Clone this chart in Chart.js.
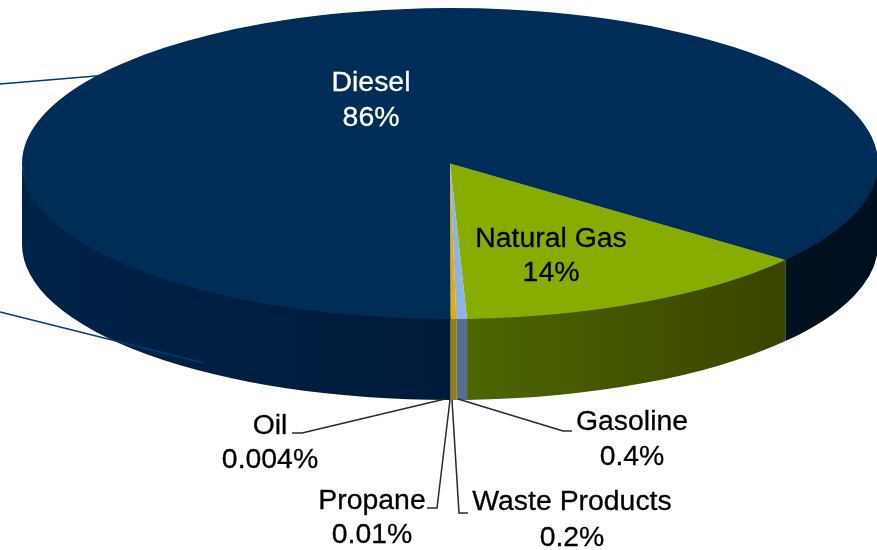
<!DOCTYPE html>
<html>
<head>
<meta charset="utf-8">
<title>Fuel share</title>
<script src="https://cdn.jsdelivr.net/npm/chart.js@4"></script>
<style>
    html, body { margin: 0; padding: 0; background: #fff; overflow: hidden; }
    #chart { display: block; }
</style>
</head>
<body>
<canvas id="chart" width="877" height="550"></canvas>
<script>
var categories = ['Natural Gas', 'Gasoline', 'Waste Products', 'Propane', 'Oil', 'Diesel'];
// slice sizes, the labels round them
var shares = [13.7, 0.4, 0.2, 0.01, 0.004, 85.7];
var shareLabels = ['14%', '0.4%', '0.2%', '0.01%', '0.004%', '86%'];

var topColors = ['#86ad00', '#8db4e2', '#e6ac00', '#e6ac00', '#e6ac00', '#002c58'];
// wall shading, left to right
var wallColors = [
    ['#4d6600', '#394400'],
    ['#54708f', '#54708f'],
    ['#9c7a0a', '#9c7a0a'],
    ['#9c7a0a', '#9c7a0a'],
    ['#9c7a0a', '#9c7a0a'],
    ['#002348', '#001a3a']
];
var dieselRightWall = ['#00111f', '#000f20'];

// pie on screen
var pie = { x: 450, y: 163.5, rx: 428, ry: 155.5, depth: 81 };
var startDegrees = 128.4;

var fontSpec = '28.4px "Liberation Sans", Arial, sans-serif';

// label centres, same order as categories
var labelSpots = [
    { x: 551, y1: 239, y2: 273, color: '#000' },
    { x: 632, y1: 422, y2: 457, color: '#000' },
    { x: 572, y1: 502, y2: 538, color: '#000' },
    { x: 372, y1: 501, y2: 535, color: '#000' },
    { x: 270, y1: 426, y2: 460, color: '#000' },
    { x: 371, y1: 83, y2: 118, color: '#fff' }
];

var leaderLines = [
    [[292, 433], [302, 433], [445, 399]],
    [[427, 508], [437, 508], [450, 400]],
    [[468, 513], [459, 513], [452, 400]],
    [[572, 431], [563, 431], [458, 399]]
];
var blueLines = [
    [[0, 84], [108, 75]],
    [[0, 312], [204, 363]]
];

function drawWallPiece(ctx, a0, a1, colors) {
    var x0 = pie.x + pie.rx * Math.cos(a1);
    var x1 = pie.x + pie.rx * Math.cos(a0);
    var grad = ctx.createLinearGradient(x0, 0, Math.max(x1, x0 + 1), 0);
    grad.addColorStop(0, colors[0]);
    grad.addColorStop(1, colors[1]);
    ctx.fillStyle = grad;
    ctx.beginPath();
    // start a little above the rim so no light seam shows under the top
    ctx.ellipse(pie.x, pie.y - 1.5, pie.rx, pie.ry, 0, a0, a1);
    ctx.ellipse(pie.x, pie.y + pie.depth, pie.rx, pie.ry, 0, a1, a0, true);
    ctx.closePath();
    ctx.fill();
}

function drawWalls(chart) {
    var ctx = chart.ctx;
    var arcs = chart.getDatasetMeta(0).data;
    arcs.forEach(function(arc, i) {
        // only the front half of the disc shows its wall
        for (var k = -1; k <= 2; k++) {
            var lo = k * 2 * Math.PI;
            var a0 = Math.max(arc.startAngle, lo);
            var a1 = Math.min(arc.endAngle, lo + Math.PI);
            if (a1 <= a0) continue;
            var isDieselRight = i === 5 && k > 0;
            drawWallPiece(ctx, a0, a1, isDieselRight ? dieselRightWall : wallColors[i]);
        }
    });
}

function drawPolyline(ctx, pts) {
    ctx.beginPath();
    pts.forEach(function(p, i) {
        if (i === 0) ctx.moveTo(p[0], p[1]);
        else ctx.lineTo(p[0], p[1]);
    });
    ctx.stroke();
}

var tiltPlugin = {
    id: 'tilt',
    beforeDatasetsDraw: function(chart) {
        var ctx = chart.ctx;
        var first = chart.getDatasetMeta(0).data[0];
        drawWalls(chart);
        ctx.save();
        ctx.translate(pie.x, pie.y);
        ctx.scale(pie.rx / first.outerRadius, pie.ry / first.outerRadius);
        ctx.translate(-first.x, -first.y);
    },
    afterDatasetsDraw: function(chart) {
        chart.ctx.restore();
    },
    afterDraw: function(chart) {
        var ctx = chart.ctx;
        ctx.save();
        ctx.lineWidth = 1.5;
        ctx.strokeStyle = '#003a78';
        blueLines.forEach(function(l) { drawPolyline(ctx, l); });
        ctx.strokeStyle = '#2a2a2a';
        leaderLines.forEach(function(l) { drawPolyline(ctx, l); });

        ctx.font = fontSpec;
        ctx.textAlign = 'center';
        ctx.textBaseline = 'middle';
        ctx.lineWidth = 0.3;
        categories.forEach(function(name, i) {
            var spot = labelSpots[i];
            ctx.fillStyle = spot.color;
            ctx.strokeStyle = spot.color;
            ctx.fillText(name, spot.x, spot.y1);
            ctx.strokeText(name, spot.x, spot.y1);
            ctx.fillText(shareLabels[i], spot.x, spot.y2);
            ctx.strokeText(shareLabels[i], spot.x, spot.y2);
        });
        ctx.restore();
    }
};

new Chart(document.getElementById('chart'), {
    type: 'pie',
    data: {
        labels: categories,
        datasets: [{
            data: shares,
            backgroundColor: topColors,
            borderWidth: 0,
            clip: false
        }]
    },
    options: {
        responsive: false,
        animation: false,
        devicePixelRatio: 1,
        rotation: startDegrees,
        plugins: {
            legend: { display: false },
            tooltip: { enabled: false }
        }
    },
    plugins: [tiltPlugin]
});
</script>
</body>
</html>
